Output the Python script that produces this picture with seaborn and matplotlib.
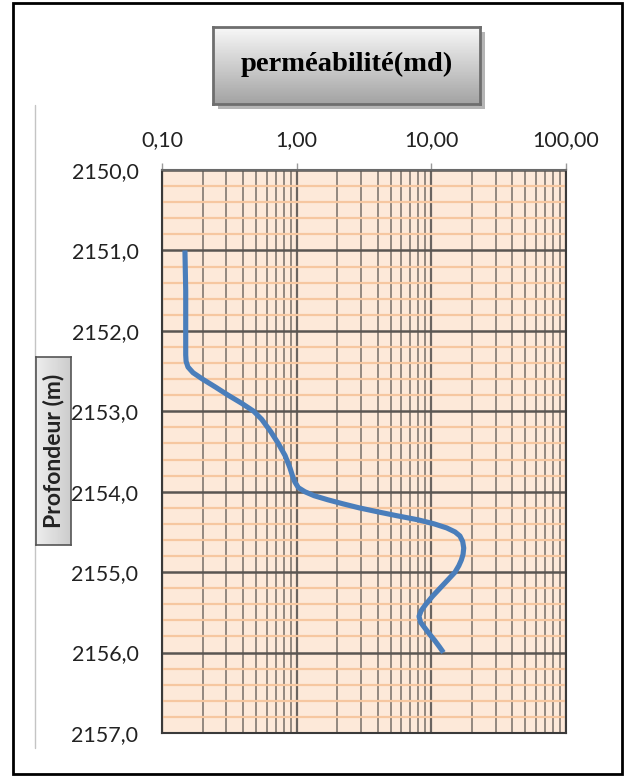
import matplotlib
matplotlib.use("Agg")
import matplotlib.pyplot as plt
import numpy as np
import pandas as pd
import seaborn as sns
from matplotlib.patches import Rectangle
from matplotlib.ticker import FixedLocator, MultipleLocator, LogLocator, NullFormatter, FixedFormatter

# Permeability log (md) versus depth (m)
depth_m = [2151.00, 2151.50, 2152.00, 2152.30, 2152.38, 2152.45, 2152.52, 2152.60,
           2152.70, 2152.80, 2152.90, 2153.00, 2153.10, 2153.25, 2153.40, 2153.55,
           2153.70, 2153.80, 2153.88, 2153.95, 2154.00, 2154.05, 2154.10, 2154.15,
           2154.20, 2154.25, 2154.30, 2154.35, 2154.40, 2154.45, 2154.50, 2154.55,
           2154.62, 2154.70, 2154.78, 2154.85, 2154.92, 2155.00, 2155.10, 2155.20,
           2155.30, 2155.40, 2155.48, 2155.55, 2155.62, 2155.70, 2155.78, 2155.85,
           2155.93, 2156.00]
permeability_md = [0.148, 0.150, 0.150, 0.150, 0.151, 0.156, 0.170, 0.200,
                   0.250, 0.310, 0.390, 0.480, 0.550, 0.640, 0.730, 0.820,
                   0.890, 0.930, 0.970, 1.030, 1.150, 1.350, 1.700, 2.200,
                   2.900, 4.000, 5.600, 8.000, 10.50, 13.00, 15.00, 16.30,
                   17.10, 17.40, 17.20, 16.70, 16.00, 15.00, 13.20, 11.60,
                   10.20, 9.100, 8.400, 8.100, 8.300, 9.000, 9.800, 10.60,
                   11.50, 12.30]

x_tick_values = [0.1, 1, 10, 100]
x_tick_labels = ["0,10", "1,00", "10,00", "100,00"]
y_tick_values = [2150, 2151, 2152, 2153, 2154, 2155, 2156, 2157]
y_tick_labels = ["2150,0", "2151,0", "2152,0", "2153,0", "2154,0", "2155,0", "2156,0", "2157,0"]
title_text = "perméabilité(md)"
y_label_text = "Profondeur (m)"

sns.set_theme(style="white")
plt.rcParams["font.family"] = ["Lato", "DejaVu Sans"]

W, H = 628, 776
fig = plt.figure(figsize=(W / 100, H / 100), dpi=100)
fig.patch.set_facecolor("white")


def fx(px):
    return px / W


def fy(py):
    return 1 - py / H


def box_rect(x0, y0, x1, y1):
    return [fx(x0), fy(y1), fx(x1) - fx(x0), fy(y0) - fy(y1)]


# outer frame and the thin chart-area edge on the left
fig.add_artist(Rectangle((fx(13), fy(774)), fx(622) - fx(13), fy(3) - fy(774),
                         transform=fig.transFigure, fill=False, edgecolor="black",
                         linewidth=2.0, zorder=0))
fig.add_artist(plt.Line2D([fx(35), fx(35)], [fy(105), fy(748)], transform=fig.transFigure,
                          color="#c4c4c4", linewidth=1.0))

# main plot
ax = fig.add_axes(box_rect(162, 170, 566, 733))
ax.set_facecolor("#FDE9D9")
df = pd.DataFrame({"depth": depth_m, "perm": permeability_md})
sns.lineplot(data=df, x="perm", y="depth", sort=False, estimator=None, orient="y",
             color="#4A7EBB", linewidth=3.7, ax=ax, zorder=5)
for ln in ax.lines:
    ln.set_solid_joinstyle("round")
    ln.set_solid_capstyle("butt")
ax.set_xscale("log")
ax.set_xlim(0.1, 100)
ax.set_ylim(2157, 2150)
ax.set_xlabel("")
ax.set_ylabel("")

ax.xaxis.set_major_locator(FixedLocator(x_tick_values))
ax.xaxis.set_major_formatter(FixedFormatter(x_tick_labels))
ax.xaxis.set_minor_locator(LogLocator(base=10, subs=np.arange(2, 10)))
ax.xaxis.set_minor_formatter(NullFormatter())
ax.yaxis.set_major_locator(FixedLocator(y_tick_values))
ax.yaxis.set_major_formatter(FixedFormatter(y_tick_labels))
ax.yaxis.set_minor_locator(MultipleLocator(0.2))

ax.set_axisbelow(True)
ax.yaxis.grid(True, which="minor", color="#F6C7A0", linewidth=1.6)
ax.xaxis.grid(True, which="minor", color="#8a8078", linewidth=1.3)
ax.xaxis.grid(True, which="major", color="#6a6460", linewidth=1.6)
ax.yaxis.grid(True, which="major", color="#5a5652", linewidth=1.8)

ax.xaxis.tick_top()
ax.tick_params(axis="x", which="major", top=True, bottom=False, labeltop=True,
               labelbottom=False, length=5, width=1.0, color="#9a9a9a",
               labelsize=15.5, pad=9, labelcolor="#222222")
ax.tick_params(axis="x", which="minor", length=0)
ax.tick_params(axis="y", which="both", length=0, labelsize=15.5, pad=17,
               labelcolor="#222222")
for lbl in ax.get_xticklabels() + ax.get_yticklabels():
    lbl.set_fontweight("normal")
for side in ["left", "right", "bottom", "top"]:
    ax.spines[side].set_visible(True)
    ax.spines[side].set_color("#3a3a3a")
    ax.spines[side].set_linewidth(1.5)
ax.spines["top"].set_color("#6a6a6a")

# title box with drop shadow and vertical gradient
fig.add_artist(Rectangle((fx(218), fy(109)), fx(485) - fx(218), fy(32) - fy(109),
                         transform=fig.transFigure, facecolor="#b5b5b5",
                         edgecolor="none", zorder=1))
tax = fig.add_axes(box_rect(213, 27, 480, 104), zorder=2)
grad = np.linspace(0.97, 0.64, 64).reshape(-1, 1)
tax.imshow(grad, aspect="auto", cmap="gray", vmin=0, vmax=1, extent=[0, 1, 0, 1])
tax.set_xticks([])
tax.set_yticks([])
for s in tax.spines.values():
    s.set_color("#6e6e6e")
    s.set_linewidth(2.0)
tax.text(0.5, 0.52, title_text, ha="center", va="center", fontsize=20.5,
         fontweight="bold", family=["Liberation Serif", "DejaVu Serif"],
         color="black", transform=tax.transAxes)

# y axis label box
yax = fig.add_axes(box_rect(36, 357, 71, 545), zorder=2)
ygrad = np.linspace(0.93, 0.80, 64).reshape(1, -1)
yax.imshow(ygrad, aspect="auto", cmap="gray", vmin=0, vmax=1, extent=[0, 1, 0, 1])
yax.set_xticks([])
yax.set_yticks([])
for s in yax.spines.values():
    s.set_color("#555555")
    s.set_linewidth(1.2)
yax.text(0.5, 0.5, y_label_text, ha="center", va="center", rotation=90,
         fontsize=16.5, fontweight="bold", color="#222222", transform=yax.transAxes)

fig.savefig("out.png", dpi=100)
